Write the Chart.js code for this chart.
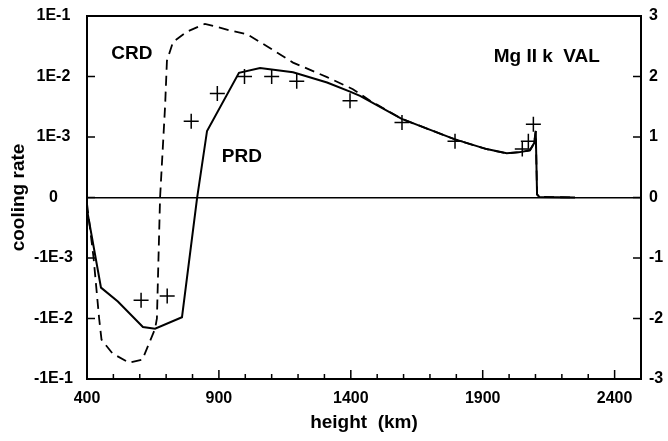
<!DOCTYPE html>
<html>
<head>
<meta charset="utf-8">
<script src="https://cdn.jsdelivr.net/npm/chart.js@4.4.1/dist/chart.umd.min.js"></script>
<style>
  html, body { margin: 0; padding: 0; background: #fff; }
  canvas { display: block; }
</style>
</head>
<body>
<canvas id="chartCooling" width="668" height="441"></canvas>
<script>
// data (y is in display units: 3 = 1E-1 ... -3 = -1E-1)
const prdHeight = [400, 453, 517, 612, 658, 760, 817, 855, 976, 1056, 1181, 1310, 1397, 1435, 1593, 1795, 1915, 1991, 2041, 2079, 2095, 2101, 2106, 2115, 2250];
const prdRate   = [-0.2, -1.49, -1.72, -2.14, -2.17, -1.98, -0.02, 1.10, 2.06, 2.14, 2.07, 1.90, 1.75, 1.68, 1.30, 0.96, 0.80, 0.73, 0.75, 0.78, 0.90, 1.10, 0.05, 0.01, 0.0];

const crdHeight = [400, 425, 446, 455, 497, 560, 610, 658, 665, 677, 696, 703, 726, 779, 847, 953, 1006, 1082, 1181, 1310, 1408, 1473, 1593, 1795, 1915, 1991, 2041, 2079, 2095, 2101, 2106, 2115, 2250];
const crdRate   = [-0.1, -1.0, -2.0, -2.35, -2.58, -2.73, -2.68, -2.17, -2.0, 0.0, 1.51, 2.26, 2.57, 2.74, 2.87, 2.75, 2.70, 2.50, 2.23, 1.99, 1.79, 1.60, 1.30, 0.96, 0.80, 0.73, 0.75, 0.78, 0.90, 1.10, 0.05, 0.01, 0.0];

const obsHeight = [605, 704, 795, 894, 997, 1100, 1195, 1397, 1594, 1795, 2050, 2073, 2092];
const obsRate   = [-1.70, -1.63, 1.26, 1.72, 2.0, 2.0, 1.92, 1.60, 1.24, 0.93, 0.80, 0.93, 1.21];

const xTicks = [400, 900, 1400, 1900, 2400];
const yTicks = [-3, -2, -1, 0, 1, 2, 3];
const yLeftLabels  = ["-1E-1", "-1E-2", "-1E-3", "0", "1E-3", "1E-2", "1E-1"];
const yRightLabels = ["-3", "-2", "-1", "0", "1", "2", "3"];

const FONT = "'Liberation Sans', Arial, Helvetica, sans-serif";

const toPoints = (xs, ys) => xs.map((x, i) => ({ x: x, y: ys[i] }));

// sin relleno extra alrededor de las escalas
const noPad = s => { s.paddingTop = 0; s.paddingBottom = 0; s.paddingLeft = 0; s.paddingRight = 0; };

// marco + marcas hacia adentro + textos
const framePlugin = {
    id: "frame",
    afterDraw(chart) {
        const { ctx, chartArea: a, scales } = chart;
        const xs = scales.x, ys = scales.y;
        ctx.save();
        ctx.strokeStyle = "#000";
        ctx.lineWidth = 2;
        ctx.strokeRect(a.left, a.top, a.right - a.left, a.bottom - a.top);

        ctx.lineWidth = 1.5;
        ctx.beginPath();
        yTicks.forEach(v => {
            if (v === yTicks[0] || v === yTicks[yTicks.length - 1]) return;
            const py = ys.getPixelForValue(v);
            ctx.moveTo(a.left, py); ctx.lineTo(a.left + 8, py);
            ctx.moveTo(a.right, py); ctx.lineTo(a.right - 8, py);
        });
        for (let v = xs.min; v <= xs.max; v += 100) {
            const px = xs.getPixelForValue(v);
            const len = xTicks.includes(v) ? 9 : 5;
            ctx.moveTo(px, a.bottom); ctx.lineTo(px, a.bottom - len);
        }
        ctx.stroke();

        ctx.fillStyle = "#000";
        ctx.font = "bold 19px " + FONT;
        ctx.textAlign = "center";
        ctx.textBaseline = "middle";
        ctx.fillText("CRD", xs.getPixelForValue(570), ys.getPixelForValue(2.37));
        ctx.fillText("PRD", xs.getPixelForValue(987), ys.getPixelForValue(0.67));
        ctx.fillText("Mg II k  VAL", xs.getPixelForValue(2143), ys.getPixelForValue(2.32));
        ctx.restore();
    }
};

new Chart(document.getElementById("chartCooling"), {
    type: "scatter",
    data: {
        datasets: [
            {
                label: "PRD",
                data: toPoints(prdHeight, prdRate),
                showLine: true,
                borderColor: "#000",
                borderWidth: 2,
                pointRadius: 0,
                tension: 0
            },
            {
                label: "CRD",
                data: toPoints(crdHeight, crdRate),
                showLine: true,
                borderColor: "#000",
                borderWidth: 1.8,
                borderDash: [10, 6],
                pointRadius: 0,
                tension: 0
            },
            {
                label: "obs",
                data: toPoints(obsHeight, obsRate),
                showLine: false,
                pointStyle: "cross",
                pointRadius: 7.5,
                pointBorderWidth: 1.5,
                borderColor: "#000",
                backgroundColor: "#000"
            }
        ]
    },
    options: {
        responsive: false,
        animation: false,
        devicePixelRatio: 1,
        layout: { padding: { top: 16, left: 0, right: 0, bottom: 0 } },
        plugins: { legend: { display: false }, tooltip: { enabled: false } },
        scales: {
            x: {
                type: "linear",
                position: "bottom",
                min: 400,
                max: 2500,
                afterBuildTicks: s => { s.ticks = xTicks.map(v => ({ value: v })); },
                afterFit: s => { s.height = 62; noPad(s); },
                ticks: {
                    color: "#000",
                    font: { family: FONT, size: 16, weight: "bold" },
                    padding: 10,
                    maxRotation: 0,
                    autoSkip: false,
                    callback: v => String(v)
                },
                grid: { display: false, drawTicks: false },
                border: { display: false },
                title: { display: true, text: "height  (km)", color: "#000", font: { family: FONT, size: 19, weight: "bold" }, padding: { top: 0, bottom: 7 } }
            },
            y: {
                type: "linear",
                position: "left",
                min: -3,
                max: 3,
                afterBuildTicks: s => { s.ticks = yTicks.map(v => ({ value: v })); },
                afterFit: s => { s.width = 87; noPad(s); },
                ticks: {
                    color: "#000",
                    font: { family: FONT, size: 16, weight: "bold" },
                    crossAlign: "center",
                    padding: 14,
                    callback: v => yLeftLabels[yTicks.indexOf(v)]
                },
                grid: {
                    drawTicks: false,
                    lineWidth: 1.5,
                    color: c => (c.tick && c.tick.value === 0 ? "#000" : "rgba(0,0,0,0)")
                },
                border: { display: false },
                title: { display: true, text: "cooling rate", color: "#000", font: { family: FONT, size: 19, weight: "bold" }, padding: { top: 7, bottom: 0 } }
            },
            y2: {
                type: "linear",
                position: "right",
                min: -3,
                max: 3,
                afterBuildTicks: s => { s.ticks = yTicks.map(v => ({ value: v })); },
                afterFit: s => { s.width = 27; noPad(s); },
                ticks: {
                    color: "#000",
                    font: { family: FONT, size: 16, weight: "bold" },
                    padding: 8,
                    callback: v => yRightLabels[yTicks.indexOf(v)]
                },
                grid: { display: false, drawTicks: false },
                border: { display: false }
            }
        }
    },
    plugins: [framePlugin]
});
</script>
</body>
</html>
